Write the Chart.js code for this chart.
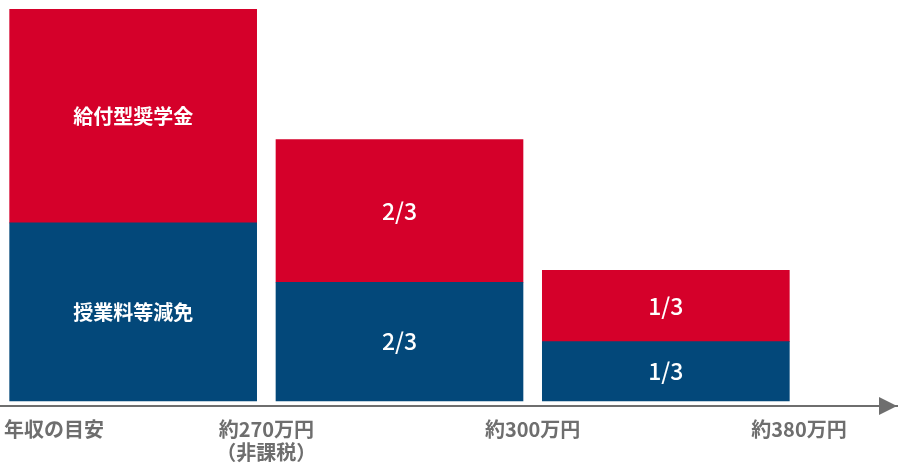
<!DOCTYPE html>
<html lang="ja">
<head>
<meta charset="utf-8">
<script src="https://cdn.jsdelivr.net/npm/chart.js@4"></script>
<style>
  html, body { margin: 0; padding: 0; background: #fff; }
  #wrap { width: 900px; height: 470px; }
</style>
</head>
<body>
<div id="wrap"><canvas id="chart"></canvas></div>
<script>
  // bar positions on the income axis (bar centres between boundaries)
  const BAR_X = [0.5, 1.5, 2.5];
  // stacked parts (blue bottom, red top)
  const GENMEN = [3, 2, 1];          // 授業料等減免
  const KYUFU = [3.6, 2.4, 1.2];     // 給付型奨学金
  const GENMEN_TEXT = ["授業料等減免", "2/3", "1/3"];
  const KYUFU_TEXT = ["給付型奨学金", "2/3", "1/3"];

  // income axis ticks (first is the axis caption, last one is the arrow end, no label)
  const TICK_VALUES = [0.015, 1, 2, 3, 3.368];
  const TICK_LABELS = ["年収の目安", ["約270万円", "（非課税）"], "約300万円", "約380万円", ""];

  const RED = "#d5002a";
  const BLUE = "#03487a";
  const GREY = "#6e6e6e";
  const FONT = "'Noto Sans CJK JP', 'Noto Sans', sans-serif";

  // white text in the middle of every bar part
  const barText = {
    id: "barText",
    afterDatasetsDraw(chart) {
      const { ctx } = chart;
      const texts = [GENMEN_TEXT, KYUFU_TEXT];
      ctx.save();
      ctx.fillStyle = "#fff";
      ctx.textAlign = "center";
      ctx.textBaseline = "middle";
      chart.data.datasets.forEach((ds, di) => {
        chart.getDatasetMeta(di).data.forEach((bar, i) => {
          const t = texts[di][i];
          const isWord = t.length > 3;
          ctx.font = isWord ? `bold 20px ${FONT}` : `500 23px ${FONT}`;
          ctx.fillText(t, bar.x, (bar.y + bar.base) / 2);
        });
      });
      ctx.restore();
    },
  };

  // arrow head at the end of the income axis
  const axisArrow = {
    id: "axisArrow",
    afterDraw(chart) {
      const { ctx, chartArea } = chart;
      const y = chart.scales.x.top;
      ctx.save();
      ctx.fillStyle = GREY;
      ctx.beginPath();
      ctx.moveTo(chartArea.right, y);
      ctx.lineTo(chartArea.right - 18, y - 9);
      ctx.lineTo(chartArea.right - 18, y + 9);
      ctx.closePath();
      ctx.fill();
      ctx.restore();
    },
  };

  new Chart(document.getElementById("chart"), {
    type: "bar",
    data: {
      datasets: [
        {
          label: "授業料等減免",
          data: BAR_X.map((x, i) => ({ x, y: GENMEN[i] })),
          backgroundColor: BLUE,
          barThickness: 247,
        },
        {
          label: "給付型奨学金",
          data: BAR_X.map((x, i) => ({ x, y: KYUFU[i] })),
          backgroundColor: RED,
          barThickness: 247,
        },
      ],
    },
    options: {
      responsive: true,
      maintainAspectRatio: false,
      animation: false,
      layout: { padding: { top: 9, right: 3, bottom: 6, left: 0 } },
      plugins: {
        legend: { display: false },
        tooltip: { enabled: false },
      },
      scales: {
        x: {
          type: "linear",
          stacked: true,
          offset: false,
          min: 0,
          max: TICK_VALUES[TICK_VALUES.length - 1],
          afterBuildTicks: (axis) => {
            axis.ticks = TICK_VALUES.map((v) => ({ value: v }));
          },
          grid: {
            display: true,
            offset: false,
            drawOnChartArea: false,
            drawTicks: true,
            tickLength: 12,
            tickColor: "rgba(0,0,0,0)",
          },
          border: { display: true, color: GREY, width: 2 },
          ticks: {
            autoSkip: false,
            maxRotation: 0,
            padding: 0,
            align: "inner",
            color: GREY,
            font: { family: FONT, size: 20, weight: "bold", lineHeight: "23px" },
            callback: (val, idx) => TICK_LABELS[idx],
          },
        },
        y: {
          stacked: true,
          display: false,
          min: -0.084,
          max: 6.6,
        },
      },
    },
    plugins: [barText, axisArrow],
  });
</script>
</body>
</html>
